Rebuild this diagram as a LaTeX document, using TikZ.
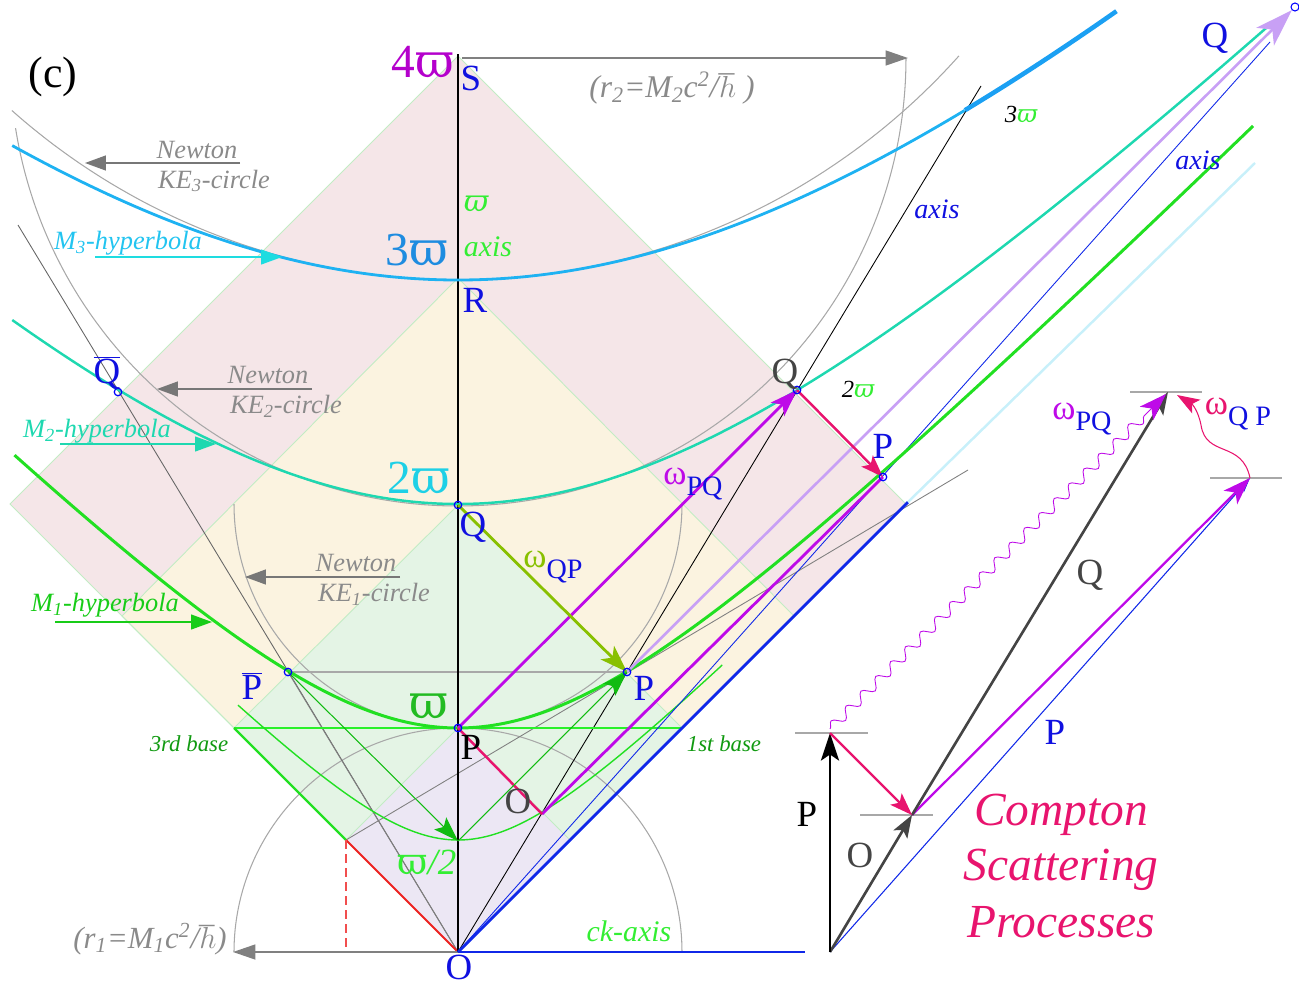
\documentclass[tikz,border=0pt]{standalone}
\usepackage{fontspec}
\setmainfont{Liberation Serif}
\newfontfamily\dvs{DejaVu Serif}
\usetikzlibrary{arrows.meta,decorations.pathmorphing}
\definecolor{pinkbg}{HTML}{F5E6E8}
\definecolor{yellowbg}{HTML}{FBF3E0}
\definecolor{greenbg}{HTML}{E4F4E5}
\definecolor{lavbg}{HTML}{ECE7F4}
\definecolor{edgeg}{HTML}{C2ECC4}
\definecolor{mthree}{HTML}{1EB2F2}
\definecolor{mthreet}{HTML}{22C4F0}
\definecolor{mtwo}{HTML}{1ED8B0}
\definecolor{mone}{HTML}{22E022}
\definecolor{monet}{HTML}{18CC18}
\definecolor{mag}{HTML}{BE0AE8}
\definecolor{crim}{HTML}{E8146E}
\definecolor{olive}{HTML}{88C000}
\definecolor{lpurp}{HTML}{C8A0F5}
\definecolor{lblue}{HTML}{1010E0}
\definecolor{lineblue}{HTML}{1028E8}
\definecolor{grayt}{HTML}{8A8A8A}
\definecolor{grayl}{HTML}{A8A8A8}
\definecolor{grayd}{HTML}{777777}
\definecolor{dgray}{HTML}{444444}
\definecolor{dgreen}{HTML}{119A11}
\definecolor{lcyan}{HTML}{C8F0FA}
\definecolor{redl}{HTML}{EE2222}
\definecolor{wcyan}{HTML}{1ED0E6}
\definecolor{wblue}{HTML}{1E8CE0}
\definecolor{wpurp}{HTML}{B400CC}
\definecolor{wgreen}{HTML}{22BB22}
\definecolor{bgreen}{HTML}{33EE33}
\definecolor{arrg}{HTML}{11BB11}
\definecolor{arrc}{HTML}{1EDCE0}
\newcommand{\fsz}[1]{\fontsize{#1}{#1}\selectfont}
\newcommand{\vpw}{{\dvs ϖ}}
\newcommand{\ivpw}{{\dvs\itshape ϖ}}
\begin{document}
\begin{tikzpicture}[x=0.02cm,y=-0.02cm,
  edge/.style={draw=edgeg,line width=0.5pt},
  ggl/.style={draw=grayl,line width=0.6pt},
  garrow/.style={draw=grayt,line width=0.8pt,-{Triangle[length=0.42cm,width=0.3cm]},color=grayd},
  lbl/.style={inner sep=0pt,text=lblue,font=\fsz{21}},
  gtxt/.style={inner sep=0pt,text=grayt,font=\fsz{15}\itshape},
  itx/.style={inner sep=0pt,font=\fsz{15}\itshape},
  dotc/.style={circle,draw=blue,line width=0.7pt,inner sep=0pt,minimum size=0.15cm},
  bigtip/.style={-{Stealth[length=0.55cm,width=0.38cm,inset=0.14cm]}},
  midtip/.style={-{Stealth[length=0.45cm,width=0.32cm,inset=0.1cm]}}
]
\useasboundingbox (0,0) rectangle (1299,987);
% coordinates
\coordinate (O) at (458,952);
\coordinate (P1) at (458,728);
\coordinate (Q1) at (458,505);
\coordinate (R) at (458,278);
\coordinate (S) at (458,56);
\coordinate (Stop) at (458,54);
\coordinate (H) at (458,841);
\coordinate (Pb) at (288,672);
\coordinate (Qb) at (118,392);
\coordinate (P2) at (627,672);
\coordinate (Q2) at (797,390);
\coordinate (P3) at (883,477);
\coordinate (Op) at (542,814);
\coordinate (AxR) at (981,86);
\coordinate (AxL) at (18,225);
\coordinate (C1) at (346,840);
\coordinate (C2) at (570,840);
\coordinate (C1b) at (346,952);
\coordinate (L3) at (234,728);
\coordinate (L1) at (682,728);
\coordinate (Y3L) at (122,616);
\coordinate (Y3R) at (794,616);
\coordinate (K4L) at (10,504);
\coordinate (K4R) at (906,504);
\coordinate (GrE) at (968,470);
\coordinate (BlE) at (908,502);
\coordinate (CyE) at (1255,163);
\coordinate (AxB) at (1270,42);
\coordinate (R2S) at (462,58);
\coordinate (R2E) at (908,58);
\coordinate (R1E) at (233,952);
\coordinate (CkE) at (805,952);
% backgrounds
\fill[pinkbg] (O) -- (K4L) -- (S) -- (K4R) -- cycle;
\fill[yellowbg] (O) -- (Y3L) -- (R) -- (Y3R) -- cycle;
\fill[greenbg] (O) -- (L3) -- (Q1) -- (L1) -- cycle;
\fill[lavbg] (O) -- (C1) -- (P1) -- (C2) -- cycle;
\draw[edge] (O) -- (K4L) -- (S) -- (K4R) -- cycle;
\draw[edge] (O) -- (Y3L) -- (R) -- (Y3R) -- cycle;
\draw[edge] (O) -- (L3) -- (Q1) -- (L1) -- cycle;
\draw[edge] (O) -- (C1) -- (P1) -- (C2) -- cycle;
% gray circles
\draw[ggl] plot[domain=0:180,samples=90,smooth] ({458+224*cos(\x)},{504+224*sin(\x)});
\draw[ggl] plot[domain=0:171,samples=120,smooth] ({458+448*cos(\x)},{58+448*sin(\x)});
\draw[ggl] plot[domain=41.8:131.6,samples=120,smooth] ({458+672*cos(\x)},{-392+672*sin(\x)});
\draw[ggl] plot[domain=180:360,samples=90,smooth] ({458+224*cos(\x)},{952+224*sin(\x)});
% gray straight lines
\draw[draw=gray!80!black,line width=0.5pt] (O) -- (AxL);
\draw[draw=gray,line width=0.5pt] (C1) -- (GrE);
\draw[ggl] (Pb) -- (P2);
\draw[draw=gray,line width=0.5pt] (Pb) -- (O);
\draw[draw=black,line width=0.5pt] (O) -- (AxR);
% base lines
\draw[draw=bgreen!80!green,line width=0.8pt] (L3) -- (L1);
\draw[draw=mone,line width=1.3pt] (L3) -- (C1);
\draw[draw=redl,line width=1.1pt] (C1) -- (O);
\draw[draw=redl!80,line width=0.9pt,dash pattern=on 5pt off 3pt] (C1) -- (C1b);
\draw[draw=redl!40,line width=0.6pt,dash pattern=on 5pt off 3pt] (C1b) -- (O);
% r arrows
\draw[draw=gray,line width=1pt,-{Triangle[length=0.45cm,width=0.3cm]},color=gray] (R2S) -- (R2E);
\draw[draw=gray,line width=1pt,-{Triangle[length=0.45cm,width=0.3cm]},color=gray] (O) -- (R1E);
% half hyperbola
\draw[draw=mone,line width=0.8pt] plot[domain=-0.982:1.18,samples=100,smooth] ({458+224*\x},{952-224*sqrt(0.25+\x*\x)});
% vertical axis
\draw[black,line width=1.1pt] (O) -- (Stop);
% blue lines
\draw[lineblue,line width=1.6pt] (O) -- (BlE);
\draw[lcyan,line width=1.4pt] (BlE) -- (CyE);
\draw[lineblue,line width=1.6pt] (O) -- (CkE);
\draw[lineblue,line width=0.5pt] (O) -- (AxB);
% hyperbolas
\draw[mone,line width=1.7pt] plot[domain=-1.98:3.55,samples=150,smooth] ({458+224*\x},{952-224*sqrt(1+\x*\x)});
\draw[mtwo,line width=1.4pt] plot[domain=-1.99:3.62,samples=150,smooth] ({458+224*\x},{952-224*sqrt(4+\x*\x)});
\draw[mthree,line width=1.6pt] plot[domain=-1.99:2.263,samples=150,smooth] ({458+224*\x},{952-224*sqrt(9+\x*\x)});
\draw[mthree!90!blue,line width=2.6pt] plot[domain=2.263:2.94,samples=40,smooth] ({458+224*\x},{952-224*sqrt(9+\x*\x)});
% light purple long arrow
\node[circle,draw=blue,line width=0.6pt,inner sep=0pt,minimum size=0.16cm] (tdot) at (1295,7) {};
\draw[lpurp,line width=1.5pt,-{Stealth[length=0.75cm,width=0.5cm,inset=0.2cm]}] (P2) -- (tdot);
% magenta lines
\draw[mag,line width=1.6pt,bigtip] (P1) -- (Q2);
\draw[mag,line width=1.6pt] (Op) -- (P3);
% crimson
\draw[crim,line width=1.4pt] (P1) -- (Op);
\draw[crim,line width=1.4pt,midtip] (Q2) -- (P3);
% olive
\draw[olive,line width=1.6pt,bigtip] (Q1) -- (P2);
% green arrows
\draw[arrg,line width=0.6pt,-{Stealth[length=0.5cm,width=0.34cm,inset=0.1cm]}] (Pb) -- (H);
\draw[arrg,line width=0.6pt,-{Stealth[length=0.5cm,width=0.34cm,inset=0.1cm]}] (H) -- (P2);
% dots
\foreach \n in {Qb,Pb,P1,Q1,P2,Q2,P3} \node[dotc] (d\n) at (\n) {};
% label arrows
\coordinate (a3s) at (240,163); \coordinate (a3e) at (85,163);
\coordinate (m3s) at (95,257); \coordinate (m3e) at (282,257);
\coordinate (a2s) at (312,389); \coordinate (a2e) at (157,389);
\coordinate (m2s) at (60,444); \coordinate (m2e) at (216,444);
\coordinate (a1s) at (400,577); \coordinate (a1e) at (245,577);
\coordinate (m1s) at (55,622); \coordinate (m1e) at (212,622);
\draw[garrow] (a3s) -- (a3e);
\draw[garrow] (a2s) -- (a2e);
\draw[garrow] (a1s) -- (a1e);
\draw[arrc,line width=0.7pt,-{Triangle[length=0.42cm,width=0.3cm]}] (m3s) -- (m3e);
\draw[mtwo,line width=0.7pt,-{Triangle[length=0.42cm,width=0.3cm]}] (m2s) -- (m2e);
\draw[monet,line width=0.7pt,-{Triangle[length=0.42cm,width=0.3cm]}] (m1s) -- (m1e);
% inset
\coordinate (iO) at (830,952);
\coordinate (iP) at (830,733);
\coordinate (iOp) at (912,815);
\coordinate (iQ) at (1168,392);
\coordinate (iPP) at (1250,478);
\coordinate (iPs) at (830,729);
\coordinate (iQs) at (1166,394);
\coordinate (wq) at (1177,395);
\coordinate (t1a) at (795,733); \coordinate (t1b) at (868,733);
\coordinate (t2a) at (860,815); \coordinate (t2b) at (933,815);
\coordinate (t3a) at (1130,392); \coordinate (t3b) at (1202,392);
\coordinate (t4a) at (1210,478); \coordinate (t4b) at (1282,478);
\draw[grayl,line width=0.8pt] (t1a) -- (t1b);
\draw[grayl,line width=0.8pt] (t2a) -- (t2b);
\draw[grayl,line width=0.8pt] (t3a) -- (t3b);
\draw[grayl,line width=0.8pt] (t4a) -- (t4b);
\draw[lineblue,line width=0.6pt,-{Stealth[length=0.3cm,width=0.2cm]}] (iO) -- (iPP);
\draw[mag,line width=1.3pt,bigtip] (iOp) -- (iPP);
\draw[dgray,line width=1.5pt,midtip] (iO) -- (iOp);
\draw[dgray,line width=1.5pt,midtip] (iOp) -- (iQ);
\draw[black,line width=1.6pt,-{Stealth[length=0.55cm,width=0.36cm,inset=0.12cm]}] (iO) -- (iP);
\draw[crim,line width=1.3pt,midtip] (iP) -- (iOp);
\draw[mag,line width=0.5pt,decorate,decoration={snake,amplitude=0.1cm,segment length=0.42cm,post length=0.6cm},-{Stealth[length=0.55cm,width=0.38cm,inset=0.14cm]}] (iPs) -- (iQs);
\draw[crim,line width=0.6pt,-{Stealth[length=0.45cm,width=0.32cm,inset=0.1cm]}] (iPP) .. controls (1242,440) and (1206,458) .. (1201,425) .. controls (1198,410) and (1192,404) .. (wq);
% labels
\node[inner sep=0pt,font=\fsz{25}] (lc) at (53,77) {(c)};
\node[inner sep=0pt,text=wpurp,font=\fsz{27}] (l4w) at (423,62) {4\vpw};
\node[lbl] (lS) at (471,78) {S};
\node[gtxt,font=\fsz{18}\itshape] (lr2) at (672,88) {(r\textsubscript{2}=M\textsubscript{2}c\textsuperscript{2}/$\hbar$\ )};
\node[gtxt] (n3) at (197,150) {Newton};
\node[gtxt] (k3) at (214,181) {KE\textsubscript{3}-circle};
\node[itx,text=mthreet] (m3) at (128,243) {M\textsubscript{3}-hyperbola};
\node[inner sep=0pt,text=bgreen,font=\fsz{17}] (wbar) at (476,204) {\ivpw};
\node[itx,text=bgreen,font=\fsz{17}\itshape] (ax1) at (488,247) {axis};
\node[inner sep=0pt,text=wblue,font=\fsz{27}] (l3w) at (417,250) {3\vpw};
\node[lbl] (lR) at (475,300) {R};
\node[itx,text=lblue,font=\fsz{16}\itshape] (ax2) at (937,209) {axis};
\node[itx,font=\fsz{14}\itshape] (l3wb) at (1021,114) {3\textcolor{bgreen}{\ivpw}};
\node[lbl] (lQt) at (1215,38) {Q};
\node[itx,text=lblue,font=\fsz{16}\itshape] (ax3) at (1198,160) {axis};
\node[lbl] (lQb) at (107,373) {$\overline{\mbox{Q}}$};
\node[gtxt] (n2) at (268,375) {Newton};
\node[gtxt] (k2) at (286,406) {KE\textsubscript{2}-circle};
\node[itx,text=mtwo] (m2) at (97,431) {M\textsubscript{2}-hyperbola};
\node[inner sep=0pt,text=wcyan,font=\fsz{27}] (l2w) at (419,478) {2\vpw};
\node[lbl] (lQ1) at (473,527) {Q};
\node[lbl,text=dgray] (lQ2) at (785,374) {Q};
\node[itx,font=\fsz{14}\itshape] (l2wb) at (858,389) {2\textcolor{bgreen}{\ivpw}};
\node[lbl] (lP3) at (883,446) {P};
\node[inner sep=0pt] (wpq) at (693,484) {\textcolor{mag}{\fsz{20}ω}\raisebox{-6pt}{\textcolor{lblue}{\fsz{16}PQ}}};
\node[inner sep=0pt] (wqp) at (553,567) {\textcolor{olive}{\fsz{20}ω}\raisebox{-6pt}{\textcolor{lblue}{\fsz{16}QP}}};
\node[gtxt] (n1) at (356,563) {Newton};
\node[gtxt] (k1) at (374,594) {KE\textsubscript{1}-circle};
\node[itx,text=monet] (m1) at (105,605) {M\textsubscript{1}-hyperbola};
\node[lbl] (lPb) at (252,686) {$\overline{\mbox{P}}$};
\node[inner sep=0pt,text=wgreen,font=\fsz{27}] (lw) at (429,706) {\vpw};
\node[itx,text=dgreen,font=\fsz{13}\itshape] (b3) at (189,744) {3rd base};
\node[lbl] (lP2) at (644,688) {P};
\node[itx,text=dgreen,font=\fsz{13}\itshape] (b1) at (724,744) {1st base};
\node[lbl,text=black] (lP1) at (471,747) {P};
\node[lbl,text=dgray] (lOp) at (518,801) {O};
\node[inner sep=0pt,text=bgreen,font=\fsz{21}] (lh) at (427,862) {\vpw\textit{/2}};
\node[gtxt,font=\fsz{17.5}\itshape] (lr1) at (150,939) {(r\textsubscript{1}=M\textsubscript{1}c\textsuperscript{2}/$\hbar$)};
\node[itx,text=bgreen,font=\fsz{17}\itshape] (ck) at (629,931) {ck-axis};
\node[lbl] (lO) at (459,967) {O};
\node[lbl,text=black] (iPl) at (807,814) {P};
\node[lbl,text=dgray] (iOl) at (860,855) {O};
\node[lbl] (iPPl) at (1055,732) {P};
\node[lbl,text=dgray] (iQl) at (1090,575) {Q};
\node[inner sep=0pt] (iwpq) at (1082,419) {\textcolor{mag}{\fsz{20}ω}\raisebox{-6pt}{\textcolor{lblue}{\fsz{16}PQ}}};
\node[inner sep=0pt] (iwqp) at (1238,414) {\textcolor{crim}{\fsz{20}ω}\raisebox{-6pt}{\textcolor{lblue}{\fsz{16}Q P}}};
\node[inner sep=0pt,text=crim,font=\fsz{27}\itshape] (cp1) at (1061,815) {Compton};
\node[inner sep=0pt,text=crim,font=\fsz{27}\itshape] (cp2) at (1061,870) {Scattering};
\node[inner sep=0pt,text=crim,font=\fsz{27}\itshape] (cp3) at (1061,922) {Processes};
\end{tikzpicture}
\end{document}
